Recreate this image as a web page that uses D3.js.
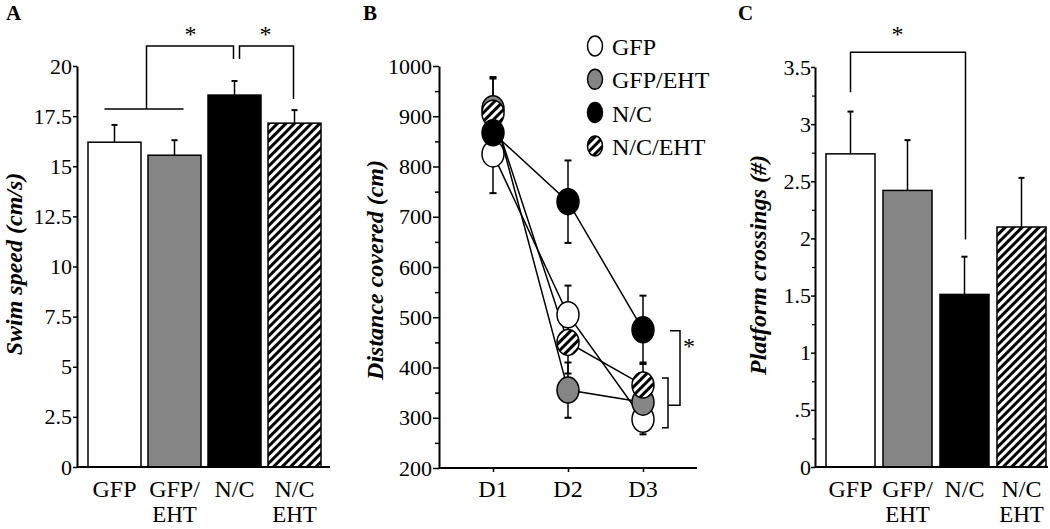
<!DOCTYPE html>
<html>
<head>
<meta charset="utf-8">
<script src="https://cdn.jsdelivr.net/npm/d3@7"></script>
<style>
  html, body { margin: 0; padding: 0; background: #fff; }
  svg { display: block; }
  text { font-family: "Liberation Serif", "Times New Roman", Times, serif; fill: #000; }
</style>
</head>
<body>
<svg id="chart" width="1050" height="529"></svg>
<script>
// ---------- DATA ----------
const categories = ["GFP", "GFP/EHT", "N/C", "N/C/EHT"];
const categoryLabelsA = [["GFP"], ["GFP/", "EHT"], ["N/C"], ["N/C", "EHT"]];
const categoryLabelsC = [["GFP"], ["GFP/", "EHT"], ["N/C"], ["N/C", "EHT"]];
const categoryFills = ["white", "gray", "black", "hatch"];

const swimSpeed = [16.2, 15.55, 18.55, 17.15];
const swimSpeedErr = [0.86, 0.75, 0.7, 0.65];
const swimTicks = [0, 2.5, 5, 7.5, 10, 12.5, 15, 17.5, 20];
const swimTickLabels = ["0", "2.5", "5", "7.5", "10", "12.5", "15", "17.5", "20"];

const days = ["D1", "D2", "D3"];
const distGFP = [825, 505, 297];
const distGFPErr = [78, 58, 30];
const distGFPEHT = [915, 355, 331];
const distGFPEHTErr = [60, 55, 40];
const distNC = [867, 730, 475];
const distNCErr = [60, 82, 68];
const distNCEHT = [906, 450, 365];
const distNCEHTErr = [72, 62, 45];
const distTicks = [200, 300, 400, 500, 600, 700, 800, 900, 1000];
const distTickLabels = ["200", "300", "400", "500", "600", "700", "800", "900", "1000"];
const distMinorTicks = [250, 350, 450, 550, 650, 750, 850, 950];

const crossings = [2.74, 2.42, 1.51, 2.10];
const crossingsErr = [0.37, 0.44, 0.33, 0.43];
const crossTicks = [0, 0.5, 1, 1.5, 2, 2.5, 3, 3.5];
const crossTickLabels = ["0", ".5", "1", "1.5", "2", "2.5", "3", "3.5"];
const crossMinorTicks = [0.25, 0.75, 1.25, 1.75, 2.25, 2.75, 3.25];

// ---------- SETUP ----------
const svg = d3.select("#chart");
const SERIF = "Liberation Serif, Times New Roman, Times, serif";
const defs = svg.append("defs");
const pat = defs.append("pattern")
  .attr("id", "hatch").attr("patternUnits", "userSpaceOnUse")
  .attr("width", 6).attr("height", 6)
  .attr("patternTransform", "rotate(45)");
pat.append("rect").attr("width", 6).attr("height", 6).attr("fill", "#fff");
pat.append("rect").attr("x", 0).attr("width", 3).attr("height", 6).attr("fill", "#000");

const fillOf = f => f === "white" ? "#fff" : f === "gray" ? "#858585" : f === "black" ? "#000" : "url(#hatch)";
const FONT = 22;
const LABEL = 24;

function panelLetter(x, y, t) {
  svg.append("text").attr("x", x).attr("y", y).text(t)
    .attr("font-size", 21).attr("font-weight", "bold");
}
function yTitle(x, y, t) {
  svg.append("text").attr("transform", `translate(${x},${y}) rotate(-90)`)
    .attr("text-anchor", "middle").attr("font-size", 24)
    .attr("font-weight", "bold").attr("font-style", "italic").text(t);
}
function styleAxis(g) {
  g.attr("font-family", SERIF);
  g.select(".domain").attr("stroke", "#000").attr("stroke-width", 2);
  g.selectAll(".tick line").attr("stroke", "#000").attr("stroke-width", 1.5);
  g.selectAll(".tick text").attr("font-size", FONT)
    .attr("font-family", SERIF).attr("fill", "#000");
}
function bracket(points) {
  svg.append("path").attr("d", d3.line()(points))
    .attr("fill", "none").attr("stroke", "#000").attr("stroke-width", 1.5);
}
function star(x, y) {
  svg.append("text").attr("x", x).attr("y", y).attr("text-anchor", "middle")
    .attr("font-size", 24).text("*");
}
function catLabels(x, labels) {
  labels.forEach((lines, i) => {
    const cx = x(categories[i]) + x.bandwidth() / 2;
    lines.forEach((t, k) => {
      svg.append("text").attr("x", cx).attr("y", k === 0 ? 497 : 522).attr("text-anchor", "middle")
        .attr("font-size", k === 0 ? LABEL : 23).text(t);
    });
  });
}

// ---------- PANEL A ----------
{
  const axX = 77, axY = 467;
  const y = d3.scaleLinear().domain([0, 20]).range([467, 66]);
  const x = d3.scaleBand().domain(categories).range([82, 327]).paddingInner(0.117).paddingOuter(0.1);

  const bars = svg.append("g");
  categories.forEach((c, i) => {
    const cx = x(c) + x.bandwidth() / 2;
    const top = y(swimSpeed[i] + swimSpeedErr[i]);
    bars.append("line").attr("x1", cx).attr("x2", cx)
      .attr("y1", y(swimSpeed[i])).attr("y2", top)
      .attr("stroke", "#000").attr("stroke-width", 1.5);
    bars.append("line").attr("x1", cx - 3).attr("x2", cx + 3)
      .attr("y1", top).attr("y2", top)
      .attr("stroke", "#000").attr("stroke-width", 2);
    bars.append("rect").attr("x", x(c)).attr("width", x.bandwidth())
      .attr("y", y(swimSpeed[i])).attr("height", y(0) - y(swimSpeed[i]))
      .attr("fill", fillOf(categoryFills[i])).attr("stroke", "#000").attr("stroke-width", 1.5);
  });

  const ya = svg.append("g").attr("transform", `translate(${axX},0)`)
    .call(d3.axisLeft(y).tickValues(swimTicks).tickFormat((d, i) => swimTickLabels[i]).tickSize(4).tickPadding(1).tickSizeOuter(0));
  styleAxis(ya);
  svg.append("line").attr("x1", axX).attr("x2", 330).attr("y1", axY).attr("y2", axY)
    .attr("stroke", "#000").attr("stroke-width", 2);

  catLabels(x, categoryLabelsA);

  const c0 = x(categories[0]) + x.bandwidth() / 2, c1 = x(categories[1]) + x.bandwidth() / 2;
  const c2 = x(categories[2]) + x.bandwidth() / 2, c3 = x(categories[3]) + x.bandwidth() / 2;
  svg.append("line").attr("x1", c0 - 10).attr("x2", c1 + 9).attr("y1", y(17.85)).attr("y2", y(17.85))
    .attr("stroke", "#000").attr("stroke-width", 1.5);
  const mid = (c0 + c1) / 2 + 2;
  bracket([[mid, y(17.85)], [mid, y(21.0)], [c2 - 1, y(21.0)], [c2 - 1, y(20.35)]]);
  bracket([[c2 + 5, y(20.35)], [c2 + 5, y(21.0)], [c3 - 1, y(21.0)], [c3 - 1, y(18.35)]]);
  star((mid + c2) / 2, 42);
  star((c2 + c3) / 2 + 1, 42);

  panelLetter(6, 20, "A");
  yTitle(22, 264, "Swim speed (cm/s)");
}

// ---------- PANEL B ----------
{
  const axX = 439, axY = 468;
  const y = d3.scaleLinear().domain([200, 1000]).range([468, 66]);
  const x = d3.scalePoint().domain(days).range([493, 643]);

  const series = [
    { name: "GFP", vals: distGFP, err: distGFPErr, fill: "white" },
    { name: "GFP/EHT", vals: distGFPEHT, err: distGFPEHTErr, fill: "gray" },
    { name: "N/C/EHT", vals: distNCEHT, err: distNCEHTErr, fill: "hatch" },
    { name: "N/C", vals: distNC, err: distNCErr, fill: "black" }
  ];
  const legendSeries = [
    { name: "GFP", fill: "white" },
    { name: "GFP/EHT", fill: "gray" },
    { name: "N/C", fill: "black" },
    { name: "N/C/EHT", fill: "hatch" }
  ];

  const g = svg.append("g");
  series.forEach(s => {
    days.forEach((d, i) => {
      const cx = x(d);
      const lo = y(s.vals[i] - s.err[i]), hi = y(s.vals[i] + s.err[i]);
      g.append("line").attr("x1", cx).attr("x2", cx).attr("y1", lo).attr("y2", hi)
        .attr("stroke", "#000").attr("stroke-width", 1.5);
      [lo, hi].forEach(yy => g.append("line").attr("x1", cx - 3.5).attr("x2", cx + 3.5)
        .attr("y1", yy).attr("y2", yy).attr("stroke", "#000").attr("stroke-width", 2));
    });
  });
  const line = d3.line().x((v, i) => x(days[i])).y(v => y(v));
  series.forEach(s => {
    g.append("path").attr("d", line(s.vals)).attr("fill", "none")
      .attr("stroke", "#000").attr("stroke-width", 1.5);
  });
  series.forEach(s => {
    days.forEach((d, i) => {
      g.append("ellipse").attr("cx", x(d)).attr("cy", y(s.vals[i])).attr("rx", 11).attr("ry", 13)
        .attr("fill", fillOf(s.fill)).attr("stroke", "#000").attr("stroke-width", 1.5);
    });
  });

  const ya = svg.append("g").attr("transform", `translate(${axX},0)`)
    .call(d3.axisLeft(y).tickValues(distTicks).tickFormat((d, i) => distTickLabels[i]).tickSize(6).tickPadding(1).tickSizeOuter(0));
  styleAxis(ya);
  svg.append("g").attr("transform", `translate(${axX},0)`)
    .call(d3.axisLeft(y).tickValues(distMinorTicks).tickSize(4).tickFormat(""))
    .call(g2 => { g2.select(".domain").remove(); g2.selectAll("line").attr("stroke", "#000").attr("stroke-width", 1.5); });
  const xa = svg.append("g").attr("transform", `translate(0,${axY})`)
    .call(d3.axisBottom(x).tickSize(4).tickPadding(0).tickSizeOuter(0).tickFormat(""));
  xa.select(".domain").remove();
  xa.selectAll("line").attr("stroke", "#000").attr("stroke-width", 1.5);
  svg.append("line").attr("x1", axX).attr("x2", 697).attr("y1", axY).attr("y2", axY)
    .attr("stroke", "#000").attr("stroke-width", 2);
  days.forEach(d => {
    svg.append("text").attr("x", x(d)).attr("y", 497).attr("text-anchor", "middle")
      .attr("font-size", LABEL).text(d);
  });

  bracket([[662, y(379)], [668, y(379)], [668, y(280)], [662, y(280)]]);
  bracket([[670, y(473)], [680, y(473)], [680, y(325)], [668, y(325)]]);
  star(689, 354);

  legendSeries.forEach((s, i) => {
    const ly = 46 + i * 33.3;
    svg.append("ellipse").attr("cx", 595).attr("cy", ly).attr("rx", 7.5).attr("ry", 10)
      .attr("fill", fillOf(s.fill)).attr("stroke", "#000").attr("stroke-width", 1.5);
    svg.append("text").attr("x", 612).attr("y", ly + 9).attr("font-size", LABEL).text(s.name);
  });

  panelLetter(363, 20, "B");
  yTitle(383, 270, "Distance covered (cm)");
}

// ---------- PANEL C ----------
{
  const axX = 815, axY = 467;
  const y = d3.scaleLinear().domain([0, 3.5]).range([467, 67]);
  const x = d3.scaleBand().domain(categories).range([820.3, 1051.7]).paddingInner(0.14).paddingOuter(0.1);

  const bars = svg.append("g");
  categories.forEach((c, i) => {
    const cx = x(c) + x.bandwidth() / 2;
    const top = y(crossings[i] + crossingsErr[i]);
    bars.append("line").attr("x1", cx).attr("x2", cx)
      .attr("y1", y(crossings[i])).attr("y2", top)
      .attr("stroke", "#000").attr("stroke-width", 1.5);
    bars.append("line").attr("x1", cx - 3).attr("x2", cx + 3)
      .attr("y1", top).attr("y2", top)
      .attr("stroke", "#000").attr("stroke-width", 2);
    bars.append("rect").attr("x", x(c)).attr("width", x.bandwidth())
      .attr("y", y(crossings[i])).attr("height", y(0) - y(crossings[i]))
      .attr("fill", fillOf(categoryFills[i])).attr("stroke", "#000").attr("stroke-width", 1.5);
  });

  const ya = svg.append("g").attr("transform", `translate(${axX},0)`)
    .call(d3.axisLeft(y).tickValues(crossTicks).tickFormat((d, i) => crossTickLabels[i]).tickSize(4).tickPadding(0).tickSizeOuter(0));
  styleAxis(ya);
  svg.append("g").attr("transform", `translate(${axX},0)`)
    .call(d3.axisLeft(y).tickValues(crossMinorTicks).tickSize(3).tickFormat(""))
    .call(g2 => { g2.select(".domain").remove(); g2.selectAll("line").attr("stroke", "#000").attr("stroke-width", 1.2); });
  svg.append("line").attr("x1", axX).attr("x2", 1048).attr("y1", axY).attr("y2", axY)
    .attr("stroke", "#000").attr("stroke-width", 2);

  catLabels(x, categoryLabelsC);

  const c0 = x(categories[0]) + x.bandwidth() / 2, c2 = x(categories[2]) + x.bandwidth() / 2;
  bracket([[c0, y(3.28)], [c0, y(3.63)], [c2 + 1, y(3.63)], [c2 + 1, y(1.99)]]);
  star((c0 + c2) / 2 - 10, 42);

  panelLetter(738, 20, "C");
  yTitle(766, 265, "Platform crossings (#)");
}
</script>
</body>
</html>
